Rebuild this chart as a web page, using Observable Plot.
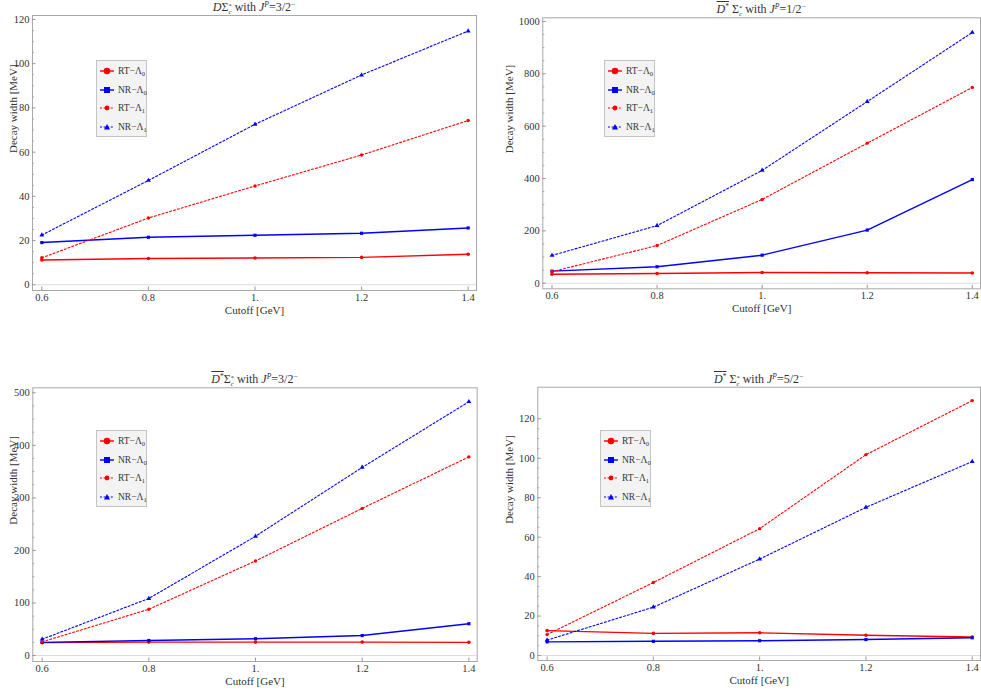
<!DOCTYPE html>
<html><head><meta charset="utf-8">
<script src="https://cdn.jsdelivr.net/npm/d3@7"></script>
<script src="https://cdn.jsdelivr.net/npm/@observablehq/plot@0.6"></script>
<style>
body{margin:0;background:#fff;width:981px;height:691px;overflow:hidden;position:relative;font-family:"Liberation Serif",serif;color:#333;}
.panel{position:absolute;}
.panel svg{position:absolute;left:0;top:0;overflow:visible;}
.panel svg text{font-family:"Liberation Serif",serif !important;}
.title{position:absolute;font-size:12px;white-space:nowrap;transform:translate(-50%,-50%);color:#333;line-height:12px;}
.ov{text-decoration:overline;}
.ss{display:inline-block;vertical-align:-3px;font-size:6.5px;text-align:left;}
.ss span{display:block;line-height:6px;height:6px;}
.title sup{font-size:7.5px;vertical-align:4px;line-height:0;}
.legend{position:absolute;background:#f3f3f3;border:1px solid #c4c4c4;box-sizing:border-box;width:51px;height:77px;}
.row{position:absolute;left:3px;height:12px;display:flex;align-items:center;font-size:9.5px;white-space:nowrap;}
.row svg{position:static;margin-right:4px;}
.row sub{font-size:6.5px;vertical-align:-0.25em;line-height:0;}
</style>
</head><body>
<script>
// ---------- data ----------
const cutoff = [0.6, 0.8, 1.0, 1.2, 1.4];
const xTicks = [0.6, 0.8, 1.0, 1.2, 1.4];
const seriesNames = ["RT-Λ0", "NR-Λ0", "RT-Λ1", "NR-Λ1"];

// Panel 1: D̄Σc* with J^P=3/2−
const p1_RT0 = [11.2, 11.9, 12.1, 12.4, 13.8];
const p1_NR0 = [19.1, 21.5, 22.4, 23.3, 25.7];
const p1_RT1 = [12.2, 30.2, 44.7, 58.7, 74.3];
const p1_NR1 = [22.5, 47.2, 72.6, 94.9, 114.8];
const p1_yTicks = [0, 20, 40, 60, 80, 100, 120];

// Panel 2: D̄*Σc* with J^P=1/2−
const p2_RT0 = [34, 37, 41, 40, 39];
const p2_NR0 = [46, 63, 107, 203, 396];
const p2_RT1 = [44, 144, 320, 535, 748];
const p2_NR1 = [106, 220, 431, 694, 958];
const p2_yTicks = [0, 200, 400, 600, 800, 1000];

// Panel 3: D̄*Σc* with J^P=3/2−
const p3_RT0 = [24.5, 25.5, 25.5, 25.5, 25];
const p3_NR0 = [25, 28.5, 32, 38, 60.5];
const p3_RT1 = [26, 88, 180, 280, 378];
const p3_NR1 = [31, 108.5, 227, 358, 483];
const p3_yTicks = [0, 100, 200, 300, 400, 500];

// Panel 4: D̄*Σc* with J^P=5/2−
const p4_RT0 = [12.6, 11.2, 11.5, 10.3, 9.4];
const p4_NR0 = [6.9, 7.2, 7.5, 8.1, 9.0];
const p4_RT1 = [10.6, 37, 64.3, 101.8, 129.2];
const p4_NR1 = [7.8, 24.5, 48.9, 75.1, 98.3];
const p4_yTicks = [0, 20, 40, 60, 80, 100, 120];

// ---------- styles ----------
const RED = "#ff0000", BLUE = "#0000ff";
const styles = {
  "RT-Λ0": {stroke: RED, dash: null, sw: 1.4, symbol: "circle", r: 1.8},
  "NR-Λ0": {stroke: BLUE, dash: null, sw: 1.4, symbol: "square", r: 1.8},
  "RT-Λ1": {stroke: RED, dash: "2,2", sw: 1.1, symbol: "circle", r: 1.7},
  "NR-Λ1": {stroke: BLUE, dash: "2,2", sw: 1.1, symbol: "triangle", r: 1.8}
};

const panels = [
  {left: 0, top: 0, w: 490, h: 330, ml: 32, mr: 14, mt: 15, mb: 40, ydom: [-2.58, 121.8],
   yTicks: p1_yTicks, minorStep: 5, ylabDx: -19, vals: [p1_RT0, p1_NR0, p1_RT1, p1_NR1],
   legend: [96, 60],
   title: '<i class="ov">D</i>Σ<span class="ss"><span>*</span><span><i>c</i></span></span> with <i>J</i><sup><i>P</i></sup>=3/2<sup>−</sup>'},
  {left: 490, top: 0, w: 491, h: 330, ml: 52.3, mr: 1, mt: 17.3, mb: 41.7, ydom: [-21.4, 1014],
   yTicks: p2_yTicks, minorStep: 50, ylabDx: -33, vals: [p2_RT0, p2_NR0, p2_RT1, p2_NR1],
   legend: [604, 60],
   title: '<span class="ov"><i>D</i><sup>*</sup></span> Σ<span class="ss"><span>*</span><span><i>c</i></span></span> with <i>J</i><sup><i>P</i></sup>=1/2<sup>−</sup>'},
  {left: 0, top: 360, w: 490, h: 331, ml: 32.3, mr: 13.3, mt: 27.3, mb: 30, ydom: [-11.4, 509.5],
   yTicks: p3_yTicks, minorStep: 25, ylabDx: -19, vals: [p3_RT0, p3_NR0, p3_RT1, p3_NR1],
   legend: [96, 430],
   title: '<span class="ov"><i>D</i><sup>*</sup></span>Σ<span class="ss"><span>*</span><span><i>c</i></span></span> with <i>J</i><sup><i>P</i></sup>=3/2<sup>−</sup>'},
  {left: 490, top: 360, w: 491, h: 331, ml: 47.3, mr: 1, mt: 26.7, mb: 31, ydom: [-2.53, 136],
   yTicks: p4_yTicks, minorStep: 5, ylabDx: -28, vals: [p4_RT0, p4_NR0, p4_RT1, p4_NR1],
   legend: [600, 430],
   title: '<span class="ov"><i>D</i><sup>*</sup></span> Σ<span class="ss"><span>*</span><span><i>c</i></span></span> with <i>J</i><sup><i>P</i></sup>=5/2<sup>−</sup>'}
];

const xdom = [0.5825, 1.4156];
const fmtX = d => d === 1 ? "1." : String(d);
const FONT = "Liberation Serif";

function legendIcon(name) {
  const s = styles[name];
  let m = "";
  if (name === "RT-Λ0") m = `<circle cx="7" cy="5" r="3.3" fill="${s.stroke}"/>`;
  if (name === "NR-Λ0") m = `<rect x="4" y="2" width="6" height="6" fill="${s.stroke}"/>`;
  if (name === "RT-Λ1") m = `<circle cx="7" cy="5" r="2.4" fill="${s.stroke}"/>`;
  if (name === "NR-Λ1") m = `<path d="M7,2 L10,7.5 L4,7.5 Z" fill="${s.stroke}"/>`;
  return `<svg width="14" height="10"><line x1="0" x2="14" y1="5" y2="5" stroke="${s.stroke}" stroke-width="${s.sw}" ${s.dash ? `stroke-dasharray="2,1.6"` : ""}/>${m}</svg>`;
}
function legendLabel(name) {
  const [a, b] = name.split("-");
  return `${a}−Λ<sub>${b.slice(1)}</sub>`;
}

panels.forEach(p => {
  const div = document.createElement("div");
  div.className = "panel";
  div.style.left = p.left + "px";
  div.style.top = p.top + "px";
  div.style.width = p.w + "px";
  div.style.height = p.h + "px";
  document.body.appendChild(div);

  const plotW = p.w - p.ml - p.mr;
  const plotH = p.h - p.mt - p.mb;
  const yMax = p.yTicks[p.yTicks.length - 1];
  const minor = d3.range(0, yMax + p.minorStep / 2, p.minorStep).filter(v => !p.yTicks.includes(v));

  const lineMarks = [];
  const dotMarks = [];
  seriesNames.forEach((name, k) => {
    const s = styles[name];
    const data = cutoff.map((c, i) => ({x: c, y: p.vals[k][i]}));
    lineMarks.push(Plot.line(data, {x: "x", y: "y", stroke: s.stroke, strokeWidth: s.sw,
      strokeDasharray: s.dash || undefined}));
    dotMarks.push(Plot.dot(data, {x: "x", y: "y", fill: s.stroke, stroke: "none", symbol: s.symbol, r: s.r}));
  });

  const chart = Plot.plot({
    width: p.w, height: p.h,
    marginLeft: p.ml, marginRight: p.mr, marginTop: p.mt, marginBottom: p.mb,
    x: {domain: xdom},
    y: {domain: p.ydom},
    style: {fontFamily: FONT, fontSize: "11px", color: "#333", background: "transparent"},
    marks: [
      Plot.ruleY([0], {stroke: "#dcdcdc", strokeWidth: 1}),
      Plot.frame({stroke: "#a8a8a8", strokeWidth: 1}),
      Plot.ruleY(p.yTicks, {stroke: "#999", insetRight: plotW - 3.5}),
      Plot.ruleY(minor, {stroke: "#aaa", insetRight: plotW - 2}),
      Plot.ruleX(xTicks, {stroke: "#999", insetTop: plotH - 3.5}),
      Plot.axisY(p.yTicks, {tickSize: 0, tickPadding: 3, label: null, fontSize: 10.5, fontFamily: FONT, tickFormat: d => String(d)}),
      Plot.axisX(xTicks, {tickSize: 0, tickPadding: 3, label: null, fontSize: 10.5, fontFamily: FONT, tickFormat: fmtX}),
      ...lineMarks,
      ...dotMarks,
      Plot.text(["Decay width [MeV]"], {frameAnchor: "left", dx: p.ylabDx, rotate: -90, text: d => d, fontSize: 11, fontFamily: FONT, fill: "#333"}),
      Plot.text(["Cutoff [GeV]"], {frameAnchor: "bottom", dy: 23, text: d => d, fontSize: 11, fontFamily: FONT, fill: "#333"})
    ]
  });
  div.appendChild(chart);

  const t = document.createElement("div");
  t.className = "title";
  t.innerHTML = p.title;
  t.style.left = (p.ml + plotW / 2) + "px";
  t.style.top = (p.mt - 7) + "px";
  div.appendChild(t);

  const lg = document.createElement("div");
  lg.className = "legend";
  lg.style.left = (p.legend[0] - p.left) + "px";
  lg.style.top = (p.legend[1] - p.top) + "px";
  seriesNames.forEach((name, k) => {
    const r = document.createElement("div");
    r.className = "row";
    r.style.top = (4 + k * 18.7) + "px";
    r.innerHTML = legendIcon(name) + "<span>" + legendLabel(name) + "</span>";
    lg.appendChild(r);
  });
  div.appendChild(lg);
});
</script>
</body></html>
